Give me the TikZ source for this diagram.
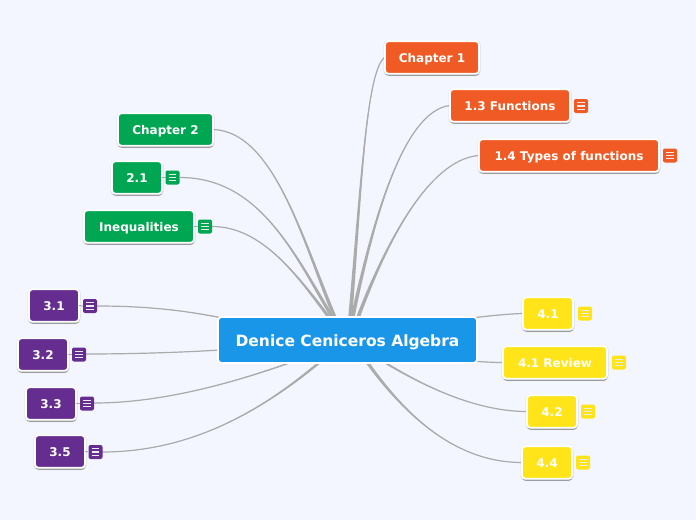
\documentclass[tikz,border=0pt]{standalone}
\usepackage{fontspec}
\setmainfont{DejaVu Sans}
\usetikzlibrary{calc,shadows}
\definecolor{bgc}{HTML}{F3F6FF}
\definecolor{linkc}{HTML}{ABABAB}
\definecolor{oc}{HTML}{F05A24}
\definecolor{gc}{HTML}{00A651}
\definecolor{pc}{HTML}{662D91}
\definecolor{yc}{HTML}{FFE41A}
\definecolor{bc}{HTML}{1A96E8}
\tikzset{
  basebox/.style={rounded corners=3.5pt,draw=white,line width=1.8pt,inner sep=0pt,outer sep=0pt,
    text=white,text height=9.6pt,text depth=0pt},
  topic/.style={basebox,minimum height=32.6pt,font=\fontsize{12}{14}\selectfont\bfseries,
    preaction={draw=black!60,line width=3pt,opacity=.16,transform canvas={yshift=-.8pt}},
    drop shadow={shadow xshift=.3pt,shadow yshift=-2pt,fill=black!60,opacity=.55}},
  rootnode/.style={basebox,fill=bc,minimum width=259pt,minimum height=46pt,text height=12.5pt,font=\fontsize{15.5}{18}\selectfont\bfseries},
  note/.style={rounded corners=2pt,minimum width=14pt,minimum height=14pt,inner sep=0pt,outer sep=0pt,
    path picture={
      \foreach \dy in {-3.3pt,0pt,3.3pt}
        \draw[white!92!black,line width=1.2pt] ($(path picture bounding box.center)+(-3.8pt,\dy)$) -- ($(path picture bounding box.center)+(3.8pt,\dy)$);
    }},
  tick/.style={draw=linkc,line width=1pt},
  thinlink/.style={draw=linkc,line width=1.2pt},
  taper/.style={fill=linkc,draw=none}
}
% tapered link: start, c1, c2, end
\newcommand{\tlink}[4]{%
  \fill[taper] ($(#1)+(-2pt,0)$) .. controls ($(#2)+(-1.2pt,0)$) and (#3) .. (#4) .. controls (#3) and ($(#2)+(1.2pt,0)$) .. ($(#1)+(2pt,0)$) -- cycle;
  \draw[thinlink] (#1) .. controls (#2) and (#3) .. (#4);}
\begin{document}
\begin{tikzpicture}[x=1pt,y=-1pt]
\useasboundingbox (0,0) rectangle (696,520);
\fill[bgc] (0,0) rectangle (696,520);
% link ends
\coordinate (root) at (347.5,340);
\coordinate (ch1) at (384.5,57.5);
\coordinate (f13) at (449.5,105.5);
\coordinate (f14) at (478.5,155.5);
\coordinate (ch2) at (213.5,129.5);
\coordinate (n21e) at (180,177.5);
\coordinate (inee) at (212,226.5);
\coordinate (n31e) at (97,306);
\coordinate (n32e) at (86,354);
\coordinate (n33e) at (94,403);
\coordinate (n35e) at (102,452);
\coordinate (n41w) at (523,313.5);
\coordinate (n41rw) at (503,362.5);
\coordinate (n42w) at (527,411.5);
\coordinate (n44w) at (522,462.5);
% links
\tlink{350,320}{361,190}{366,72}{ch1}
\tlink{352,320}{372,225}{402,112}{f13}
\tlink{357,320}{385,245}{428,160}{f14}
\tlink{336,320}{304,245}{275,132}{ch2}
\tlink{334,320}{295,255}{260,177.5}{n21e}
\tlink{331,320}{297,275}{262,226.5}{inee}
\tlink{232,320}{190,311}{150,306}{n31e}
\tlink{220,350}{180,352.5}{130,354}{n32e}
\tlink{292,362}{230,384}{160,403}{n33e}
\tlink{320,362}{260,412}{190,452}{n35e}
\tlink{470,318}{490,316}{505,314}{n41w}
\tlink{470,361}{485,362}{495,362.5}{n41rw}
\tlink{384,362}{430,390}{480,411.5}{n42w}
\tlink{367,362}{410,422}{460,462.5}{n44w}
% central topic
\node[rootnode] (rootn) at (root) {Denice Ceniceros Algebra};
% orange
\node[topic,fill=oc,minimum width=94pt] (c1) at (432,57.5) {Chapter 1};
\node[topic,fill=oc,minimum width=120pt] (a13) at (510,105.5) {1.3 Functions};
\node[note,fill=oc] (a13n) at (581,106) {};
\node[topic,fill=oc,minimum width=180pt] (a14) at (569,155.5) {1.4 Types of functions};
\node[note,fill=oc] (a14n) at (670,155.5) {};
% green
\node[topic,fill=gc,minimum width=95pt] (c2) at (165.5,129.5) {Chapter 2};
\node[topic,fill=gc,minimum width=50pt] (b21) at (137,177.5) {2.1};
\node[note,fill=gc] (b21n) at (172.5,177.5) {};
\node[topic,fill=gc,minimum width=110pt] (ine) at (139,226.5) {Inequalities};
\node[note,fill=gc] (inen) at (205,226.5) {};
% purple
\node[topic,fill=pc,minimum width=50pt] (p31) at (54,305.5) {3.1};
\node[note,fill=pc] (p31n) at (90,306) {};
\node[topic,fill=pc,minimum width=50pt] (p32) at (43,354.5) {3.2};
\node[note,fill=pc] (p32n) at (79,354.5) {};
\node[topic,fill=pc,minimum width=50pt] (p33) at (51,403.5) {3.3};
\node[note,fill=pc] (p33n) at (87,403.5) {};
\node[topic,fill=pc,minimum width=50pt] (p35) at (60,451.5) {3.5};
\node[note,fill=pc] (p35n) at (95.5,452) {};
% yellow
\node[topic,fill=yc,minimum width=50pt] (y41) at (548,313.5) {4.1};
\node[note,fill=yc] (y41n) at (585,313.5) {};
\node[topic,fill=yc,minimum width=104pt] (y41r) at (555,362.5) {4.1 Review};
\node[note,fill=yc] (y41rn) at (619,362.5) {};
\node[topic,fill=yc,minimum width=50pt] (y42) at (552,411.5) {4.2};
\node[note,fill=yc] (y42n) at (588,411.5) {};
\node[topic,fill=yc,minimum width=50pt] (y44) at (547,462.5) {4.4};
\node[note,fill=yc] (y44n) at (583,462.5) {};
% ticks node to note
\foreach \a/\b in {b21/b21n,ine/inen,p31/p31n,p32/p32n,p33/p33n,p35/p35n}
  \draw[tick] (\a.east) -- (\b.west);
\end{tikzpicture}
\end{document}
